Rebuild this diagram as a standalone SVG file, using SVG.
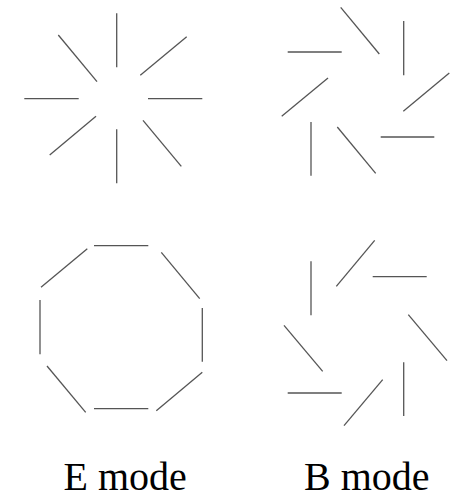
<svg xmlns="http://www.w3.org/2000/svg" width="458" height="499" viewBox="0 0 458 499">
<style>
line{stroke:#555;stroke-width:1.3;fill:none}
.lbl{font-family:'Liberation Serif','Times New Roman',Times,serif;font-size:40px;fill:#000}
</style>
<rect width="458" height="499" fill="#fff"/>
<g id="e-radial">
<line x1="116.7" y1="13.3" x2="116.7" y2="67.3"/>
<line x1="58.3" y1="35" x2="97" y2="81.7"/>
<line x1="186.7" y1="36.7" x2="140.3" y2="75.3"/>
<line x1="24.3" y1="98.7" x2="78.7" y2="98.7"/>
<line x1="148" y1="98.7" x2="202.3" y2="98.7"/>
<line x1="96" y1="116.3" x2="49.7" y2="155"/>
<line x1="116.7" y1="129.3" x2="116.7" y2="183.3"/>
<line x1="143" y1="120.3" x2="181.3" y2="166.3"/>
</g>
<g id="b-ccw">
<line x1="340.7" y1="7.3" x2="379.3" y2="54"/>
<line x1="403.7" y1="21" x2="403.7" y2="75.3"/>
<line x1="287.7" y1="52" x2="341.7" y2="52"/>
<line x1="328" y1="78" x2="281.7" y2="116.3"/>
<line x1="449.3" y1="73" x2="403.3" y2="111.3"/>
<line x1="311" y1="122" x2="311" y2="175.7"/>
<line x1="337.3" y1="127" x2="375.7" y2="173.3"/>
<line x1="380.7" y1="137" x2="434.3" y2="137"/>
</g>
<g id="e-ring">
<line x1="94" y1="245.7" x2="148.3" y2="245.7"/>
<line x1="87.3" y1="248.7" x2="41" y2="287.3"/>
<line x1="161.3" y1="252.3" x2="199.7" y2="298.7"/>
<line x1="40" y1="300" x2="40" y2="354.3"/>
<line x1="202.3" y1="308" x2="202.3" y2="361.7"/>
<line x1="47" y1="366" x2="85.7" y2="412.3"/>
<line x1="94" y1="408.7" x2="148.3" y2="408.7"/>
<line x1="202.3" y1="372.3" x2="156.3" y2="410.7"/>
</g>
<g id="b-cw">
<line x1="311" y1="261.3" x2="311" y2="315.3"/>
<line x1="374.7" y1="240.3" x2="336.3" y2="286.3"/>
<line x1="372.7" y1="276.7" x2="426.7" y2="276.7"/>
<line x1="284" y1="325.3" x2="322.7" y2="371.3"/>
<line x1="408.3" y1="314.7" x2="447" y2="360.7"/>
<line x1="287.7" y1="393" x2="341.7" y2="393"/>
<line x1="382.7" y1="379.7" x2="344" y2="425.7"/>
<line x1="403.7" y1="362.3" x2="403.7" y2="416"/>
</g>
<g id="labels">
<text class="lbl" x="63.5" y="490">E mode</text>
<text class="lbl" x="304" y="490">B mode</text>
</g>
</svg>
